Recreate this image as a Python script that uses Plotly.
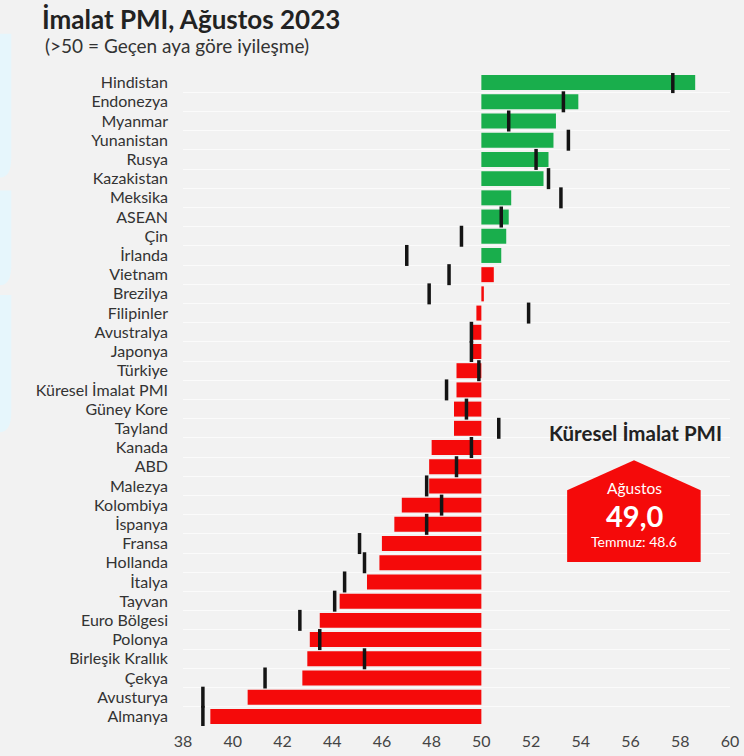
import plotly.graph_objects as go

# --- data ---
countries = [
    "Hindistan", "Endonezya", "Myanmar", "Yunanistan", "Rusya", "Kazakistan",
    "Meksika", "ASEAN", "Çin", "İrlanda", "Vietnam", "Brezilya", "Filipinler",
    "Avustralya", "Japonya", "Türkiye", "Küresel İmalat PMI", "Güney Kore",
    "Tayland", "Kanada", "ABD", "Malezya", "Kolombiya", "İspanya", "Fransa",
    "Hollanda", "İtalya", "Tayvan", "Euro Bölgesi", "Polonya",
    "Birleşik Krallık", "Çekya", "Avusturya", "Almanya",
]
august = [
    58.6, 53.9, 53.0, 52.9, 52.7, 52.5,
    51.2, 51.1, 51.0, 50.8, 50.5, 50.1, 49.8,
    49.6, 49.6, 49.0, 49.0, 48.9,
    48.9, 48.0, 47.9, 47.9, 46.8, 46.5, 46.0,
    45.9, 45.4, 44.3, 43.5, 43.1,
    43.0, 42.8, 40.6, 39.1,
]
july = [
    57.7, 53.3, 51.1, 53.5, 52.2, 52.7,
    53.2, 50.8, 49.2, 47.0, 48.7, 47.9, 51.9,
    49.6, 49.6, 49.9, 48.6, 49.4,
    50.7, 49.6, 49.0, 47.8, 48.4, 47.8, 45.1,
    45.3, 44.5, 44.1, 42.7, 43.5,
    45.3, 41.3, 38.8, 38.8,
]
x_ticks = list(range(38, 61, 2))
n_green = 10  # first rows drawn in green

GREEN = "#19ae4c"
RED = "#f50a0a"
BG = "#f2f2f2"
FONT = "Lato"

bar_colors = [GREEN if i < n_green else RED for i in range(len(countries))]

fig = go.Figure()

# bars start from the 50 line
fig.add_trace(go.Bar(
    y=countries,
    x=[v - 50 for v in august],
    base=50,
    orientation="h",
    marker=dict(color=bar_colors, line=dict(width=0)),
    width=0.78,
    customdata=august,
    hovertemplate="%{y}: %{customdata}<extra>Ağustos</extra>",
    showlegend=False,
))

# July values as short black ticks
fig.add_trace(go.Scatter(
    y=countries,
    x=july,
    mode="markers",
    marker=dict(symbol="line-ns", size=15, line=dict(width=3.5, color="#141414")),
    hovertemplate="%{y}: %{x}<extra>Temmuz</extra>",
    showlegend=False,
))

fig.update_layout(
    width=744, height=756,
    paper_bgcolor=BG, plot_bgcolor=BG,
    margin=dict(l=183, r=14, t=73, b=30),
    font=dict(family=FONT, color="#333333"),
)

fig.update_xaxes(
    range=[38, 60],
    tickvals=x_ticks,
    showgrid=False, zeroline=False,
    tickfont=dict(size=16, color="#444444"),
    ticks="", ticklabelstandoff=4,
    automargin=False,
)

fig.update_yaxes(
    type="category",
    categoryorder="array", categoryarray=countries,
    range=[len(countries) - 0.5, -0.5],
    tickson="boundaries",
    showgrid=True, gridcolor="#fbfbfb", gridwidth=1,
    ticks="", ticklabelstandoff=14,
    tickfont=dict(size=16, color="#333333"),
    automargin=False,
)

# title + subtitle
fig.add_annotation(
    text="İmalat PMI, Ağustos 2023",
    xref="paper", yref="paper", x=-0.262, y=1.0, yshift=54,
    xanchor="left", yanchor="middle", showarrow=False,
    font=dict(size=26, color="#222222", family=FONT, weight=700),
)
fig.add_annotation(
    text="(>50 = Geçen aya göre iyileşme)",
    xref="paper", yref="paper", x=-0.256, y=1.0, yshift=28,
    xanchor="left", yanchor="middle", showarrow=False,
    font=dict(size=19, color="#333333", family=FONT),
)

# global PMI callout
gi = countries.index("Küresel İmalat PMI")
fig.add_annotation(
    text="Küresel İmalat PMI",
    xref="x", yref="paper", x=56.2, y=0.449, yanchor="middle",
    showarrow=False, font=dict(size=20.5, color="#222222", family=FONT, weight=700),
)
fig.add_shape(
    type="path", xref="x", yref="paper",
    path="M 53.45 0.251 L 53.45 0.361 L 56.14 0.407 L 58.82 0.361 L 58.82 0.251 Z",
    fillcolor=RED, line=dict(width=0), layer="above",
)
fig.add_annotation(
    text="Ağustos", xref="x", yref="paper", x=56.14, y=0.364, yanchor="middle",
    showarrow=False, font=dict(size=15.5, color="#ffffff", family=FONT),
)
fig.add_annotation(
    text=f"<b>{august[gi]:.1f}</b>".replace(".", ","),
    xref="x", yref="paper", x=56.14, y=0.323, yanchor="middle",
    showarrow=False, font=dict(size=29, color="#ffffff", family=FONT),
)
fig.add_annotation(
    text=f"Temmuz: {july[gi]:.1f}", xref="x", yref="paper", x=56.14, y=0.282,
    yanchor="middle",
    showarrow=False, font=dict(size=14, color="#ffffff", family=FONT),
)

# pale blue decoration on the left edge
for top, bottom in [(1.06, 0.84), (0.82, 0.675), (0.66, 0.45)]:
    fig.add_shape(
        type="path", xref="paper", yref="paper",
        path=(f"M -0.335 {top} L -0.314 {top} "
              f"L -0.314 {bottom + 0.03} Q -0.314 {bottom} -0.335 {bottom} Z"),
        fillcolor="#e6f6fc", line=dict(width=0), layer="below",
    )

# drop the default page margin so the figure fills the window
fig.write_html(
    "out.html",
    config={"displayModeBar": False},
    post_script="document.body.style.margin='0';",
)
